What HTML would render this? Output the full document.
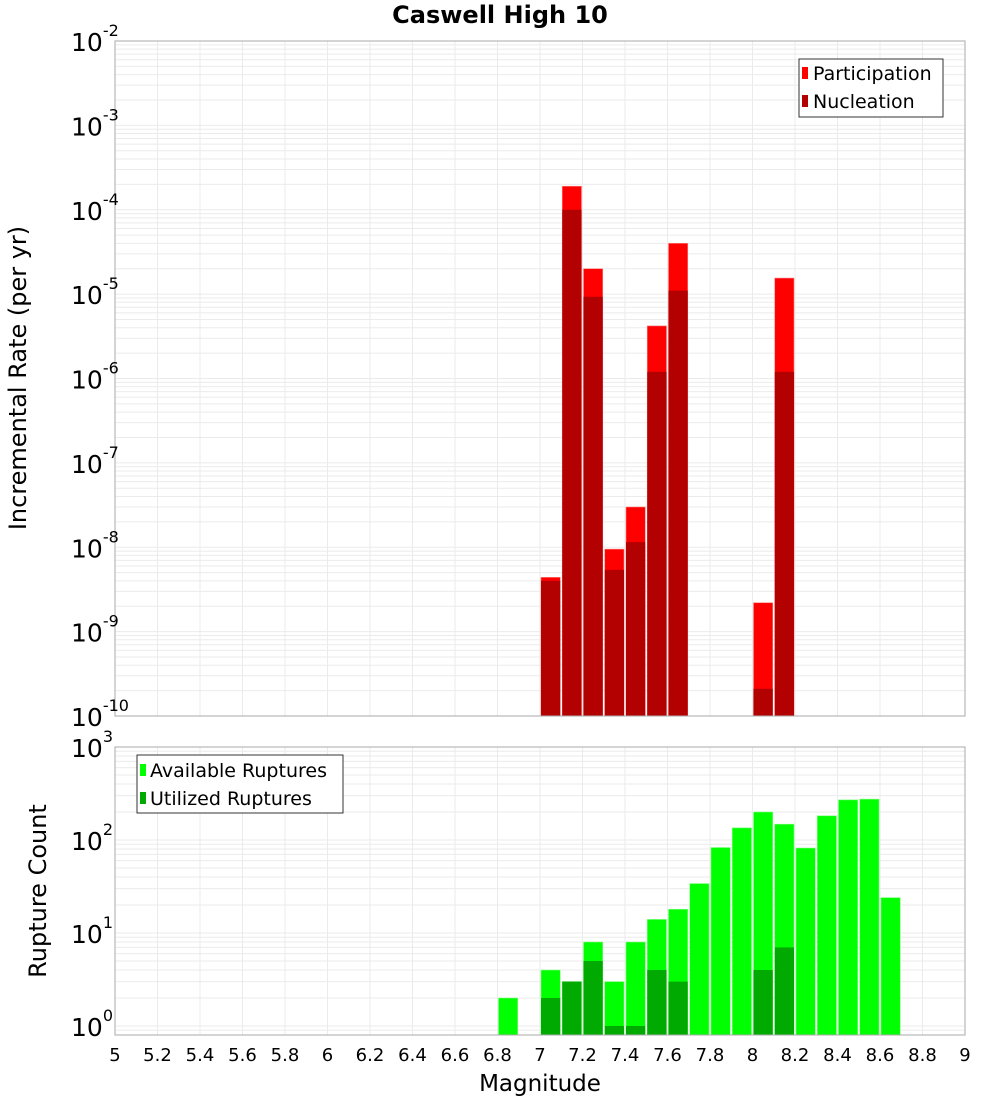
<!DOCTYPE html>
<html><head><meta charset="utf-8"><style>
body{margin:0;background:#fff;}
svg{display:block;font-family:"DejaVu Sans","Liberation Sans",sans-serif;}
</style></head><body>
<svg id="chart" width="1000" height="1100" xmlns="http://www.w3.org/2000/svg"></svg>
<script>
const magBins=[7.05,7.15,7.25,7.35,7.45,7.55,7.65,8.05,8.15];
const participation=[4.4e-9,1.9e-4,2.0e-5,9.5e-9,3.0e-8,4.2e-6,4.0e-5,2.2e-9,1.55e-5];
const nucleation=[4.0e-9,1.0e-4,9.3e-6,5.4e-9,1.15e-8,1.2e-6,1.1e-5,2.1e-10,1.2e-6];
const countBins=[6.85,7.05,7.15,7.25,7.35,7.45,7.55,7.65,7.75,7.85,7.95,8.05,8.15,8.25,8.35,8.45,8.55,8.65];
const available=[2,4,3,8,3,8,14,18,34,83,135,200,148,82,182,270,275,24];
const utilized=[0,2,3,5,1,1,4,3,0,0,0,4,7,0,0,0,0,0];
const xTicks=[5,5.2,5.4,5.6,5.8,6,6.2,6.4,6.6,6.8,7,7.2,7.4,7.6,7.8,8,8.2,8.4,8.6,8.8,9];
const topExp=[-2,-3,-4,-5,-6,-7,-8,-9,-10];
const botExp=[3,2,1,0];

const NS="http://www.w3.org/2000/svg";
const svg=document.getElementById('chart');
function el(t,a,p){const e=document.createElementNS(NS,t);for(const k in a)e.setAttribute(k,a[k]);(p||svg).appendChild(e);return e;}
const L=115,R=965;
const X=v=>L+(v-5)/4*(R-L);
const T0=41,T1=716;
const Yt=v=>T0+(-2-Math.log10(v))*(T1-T0)/8;
const B0=747,B1=1035;
const Yb=v=>1026-Math.log10(v)*93;

function grid(g,top,bot,yf,lo,hi){
  for(let d=lo;d<hi;d++)for(let m=1;m<10;m++){const v=m*Math.pow(10,d);const y=yf(v);if(y<top-0.5||y>bot+0.5)continue;
    const ln=el('line',{x1:L,x2:R,y1:y,y2:y,stroke:'#ebebeb','stroke-width':1},g);
    }
  xTicks.forEach(t=>{const x=X(t);const ln=el('line',{x1:x,x2:x,y1:top,y2:bot,stroke:'#ebebeb','stroke-width':1},g);
    });
}
const gt=el('g',{});
el('rect',{x:L,y:T0,width:R-L,height:T1-T0,fill:'#fff'},gt);
grid(gt,T0,T1,Yt,-10,-1);
magBins.forEach((m,i)=>{const x0=X(m-0.05)+1,w=X(m+0.05)-X(m-0.05)-2;
  let y=Yt(participation[i]);const r=el('rect',{x:x0,y:y,width:w,height:T1-y,fill:'#ff0000',stroke:'#ff8080','stroke-width':0.6},gt);
  
  y=Yt(nucleation[i]);const r2=el('rect',{x:x0,y:y,width:w,height:T1-y,fill:'#b30000'},gt);
  });
el('rect',{x:L,y:T0,width:R-L,height:T1-T0,fill:'none',stroke:'#aaa'},gt);
topExp.forEach(e=>{const y=Yt(Math.pow(10,e));const t=el('text',{x:71,y:y+10,'font-size':25,fill:'#000'},gt);
  
  t.textContent='10';const s=el('tspan',{dy:-15,'font-size':16},t);s.textContent=String(e);});
const gb=el('g',{});
grid(gb,B0,B1,Yb,-1,3);
countBins.forEach((m,i)=>{const x0=X(m-0.05)+1,w=X(m+0.05)-X(m-0.05)-2;
  let y=Yb(available[i]);const r=el('rect',{x:x0,y:y,width:w,height:B1-y,fill:'#00ff00',stroke:'#80ff80','stroke-width':0.6},gb);
  
  if(utilized[i]>0){y=Yb(utilized[i]);const r2=el('rect',{x:x0,y:y,width:w,height:B1-y,fill:'#00aa00'},gb);
  }});
el('rect',{x:L,y:B0,width:R-L,height:B1-B0,fill:'none',stroke:'#aaa'},gb);
botExp.forEach(e=>{const y=Yb(Math.pow(10,e));const t=el('text',{x:71,y:y+10,'font-size':25,fill:'#000'},gb);
  
  t.textContent='10';const s=el('tspan',{dy:-15,'font-size':16},t);s.textContent=String(e);});
xTicks.forEach(v=>{const t=el('text',{x:X(v),y:1061,'font-size':18,'text-anchor':'middle',fill:'#000'});
  t.textContent=String(v);});
</script>
<svg style="position:absolute;left:0;top:0" width="1000" height="1100" xmlns="http://www.w3.org/2000/svg" font-family="DejaVu Sans, Liberation Sans, sans-serif">
<text x="500" y="23" font-size="24" font-weight="bold" text-anchor="middle">Caswell High 10</text>
<text transform="translate(26,378) rotate(-90)" font-size="24" text-anchor="middle">Incremental Rate (per yr)</text>
<text transform="translate(46,891) rotate(-90)" font-size="24" text-anchor="middle">Rupture Count</text>
<text x="540" y="1091" font-size="23" text-anchor="middle">Magnitude</text>
<g>
<rect x="799" y="59" width="144" height="58" fill="#fff" stroke="#333"/>
<rect x="802" y="67" width="6" height="12" fill="#ff0000"/>
<text x="813" y="80" font-size="19">Participation</text>
<rect x="802" y="95" width="6" height="12" fill="#b30000"/>
<text x="813" y="108" font-size="19">Nucleation</text>
</g>
<g>
<rect x="137" y="755" width="206" height="58" fill="#fff" stroke="#333"/>
<rect x="140" y="764" width="6" height="12" fill="#00ff00"/>
<text x="150" y="777" font-size="19">Available Ruptures</text>
<rect x="140" y="792" width="6" height="12" fill="#00aa00"/>
<text x="150" y="805" font-size="19">Utilized Ruptures</text>
</g>
</svg>
</body></html>
